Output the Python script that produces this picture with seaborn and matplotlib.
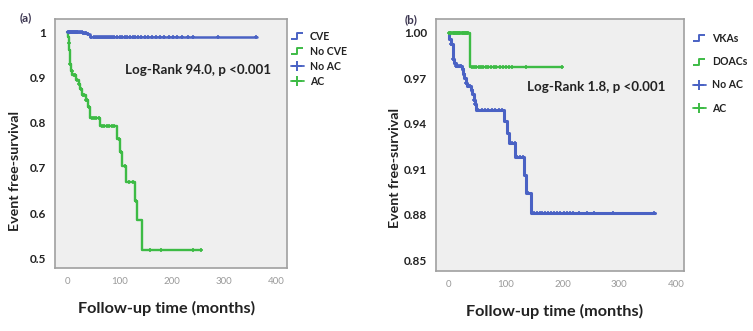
import numpy as np
import pandas as pd
import matplotlib
matplotlib.use("Agg")
import matplotlib.pyplot as plt
import seaborn as sns
from matplotlib.lines import Line2D
from matplotlib.path import Path

# ---- panel (a): CVE vs No CVE ----
a_cve_t = [0, 30, 38, 44, 363]
a_cve_s = [1.0, 0.998, 0.995, 0.990, 0.990]
a_cve_censor = [1, 3, 5, 7, 9, 11, 13, 15, 17, 19, 21, 24, 27, 30, 33, 36, 40, 46, 50, 54, 58,
                62, 66, 70, 74, 78, 82, 86, 90, 95, 100, 105, 110, 115, 120, 125, 130, 136,
                142, 148, 155, 162, 170, 178, 186, 194, 202, 210, 219, 232, 241, 289, 362]

a_nocve_t = [0, 1, 2, 3, 4, 5, 6.5, 9, 17, 22, 24, 27, 35, 40, 44, 63, 95, 100, 105, 113,
             129, 134, 143, 257]
a_nocve_s = [1.0, 0.99, 0.975, 0.96, 0.945, 0.93, 0.915, 0.905, 0.895, 0.885, 0.875, 0.862,
             0.85, 0.835, 0.81, 0.793, 0.765, 0.735, 0.705, 0.668, 0.627, 0.585, 0.52, 0.52]
a_nocve_censor = [2, 5, 8, 12, 15, 19, 23, 26, 29, 32, 36, 38, 42, 47, 50, 55, 60, 66, 70,
                  75, 80, 86, 90, 98, 103, 110, 118, 125, 132, 158, 179, 240, 256]

# ---- panel (b): VKAs vs DOACs ----
b_vka_t = [0, 1, 4, 7, 10, 13, 24, 26, 28, 30, 32, 40, 42, 44, 46, 48, 97, 103.5, 106,
           117.5, 132, 136, 144, 362]
b_vka_s = [1.0, 0.996, 0.993, 0.983, 0.980, 0.978, 0.976, 0.973, 0.970, 0.967, 0.965,
           0.962, 0.960, 0.956, 0.953, 0.949, 0.942, 0.934, 0.927, 0.918, 0.906, 0.894,
           0.881, 0.881]
b_vka_censor = [2, 5, 8, 11, 14, 17, 20, 22, 25, 27, 29, 31, 34, 36, 38, 41, 43, 45, 47, 52,
                58, 64, 70, 76, 82, 88, 94, 100, 104, 108, 112, 116, 120, 125, 130, 134, 140,
                146, 150, 155, 160, 165, 170, 175, 180, 185, 190, 196, 202, 208, 213, 218,
                229, 243, 255, 288, 360]

b_doac_t = [0, 37, 200]
b_doac_s = [1.0, 0.9775, 0.9775]
b_doac_censor = [1, 3, 5, 7, 9, 11, 13, 15, 17, 19, 21, 23, 25, 27, 29, 31, 33, 35, 41, 45,
                 49, 53, 57, 61, 65, 69, 74, 79, 84, 90, 96, 101, 106, 111, 136, 200]

BLUE = "#4a62c4"
GREEN = "#3dbb45"
TXT = "#222222"


def step_value(t, s, c):
    idx = np.searchsorted(np.asarray(t), np.asarray(c), side="right") - 1
    return np.asarray(s)[idx]


def draw_curve(ax, t, s, censor, color, lw):
    df = pd.DataFrame({"time": t, "surv": s})
    sns.lineplot(data=df, x="time", y="surv", drawstyle="steps-post", color=color,
                 linewidth=lw, estimator=None, ax=ax)
    cdf = pd.DataFrame({"time": censor, "surv": step_value(t, s, censor)})
    sns.scatterplot(data=cdf, x="time", y="surv", marker="+", s=12, color=color,
                    linewidth=1.2, ax=ax, zorder=3)


def style_axes(ax):
    ax.set_facecolor("#efefef")
    for sp in ax.spines.values():
        sp.set_color("#a0a0a0")
        sp.set_linewidth(1.2)
    ax.tick_params(axis="both", direction="out", length=3, width=0.8, color="#999999")
    ax.tick_params(axis="x", labelcolor="#9a9a9a", labelsize=7)
    ax.tick_params(axis="y", labelcolor=TXT, labelsize=8.5)
    for lab in ax.get_yticklabels():
        lab.set_fontweight("bold")
    ax.set_xticks([0, 100, 200, 300, 400])
    ax.set_xlabel("Follow-up time (months)", fontsize=11.7, fontweight="bold", color=TXT)
    ax.set_ylabel("Event free-survival", fontsize=10.3, fontweight="bold", color=TXT)
    ax.xaxis.set_label_coords(0.48, -0.13)


step_marker = Path([(-1, -0.5), (0, -0.5), (0, 0.5), (1, 0.5)],
                   [Path.MOVETO, Path.LINETO, Path.LINETO, Path.LINETO])


def legend_handles(labels):
    return [
        Line2D([], [], marker=step_marker, markersize=9, color=BLUE, linestyle="none",
               markerfacecolor="none", markeredgewidth=1.4, label=labels[0]),
        Line2D([], [], marker=step_marker, markersize=9, color=GREEN, linestyle="none",
               markerfacecolor="none", markeredgewidth=1.4, label=labels[1]),
        Line2D([], [], marker="+", markersize=7, color=BLUE, linestyle="-", linewidth=1.3,
               markeredgewidth=1.4, label=labels[2]),
        Line2D([], [], marker="+", markersize=7, color=GREEN, linestyle="-", linewidth=1.3,
               markeredgewidth=1.4, label=labels[3]),
    ]


sns.set_theme(style="white")
plt.rcParams["font.family"] = ["Lato", "DejaVu Sans"]

fig = plt.figure(figsize=(7.53, 3.31), dpi=100)
ax1 = fig.add_axes([0.073, 0.190, 0.308, 0.753])
ax2 = fig.add_axes([0.579, 0.181, 0.329, 0.762])

# panel (a)
draw_curve(ax1, a_cve_t, a_cve_s, a_cve_censor, BLUE, 1.8)
draw_curve(ax1, a_nocve_t, a_nocve_s, a_nocve_censor, GREEN, 1.7)
ax1.set_xlim(-24, 421)
ax1.set_ylim(0.479, 1.029)
ax1.set_yticks([0.5, 0.6, 0.7, 0.8, 0.9, 1.0])
ax1.set_yticklabels(["0.5", "0.6", "0.7", "0.8", "0.9", "1"])
style_axes(ax1)
ax1.yaxis.set_label_coords(-0.145, 0.39)
ax1.text(0.615, 0.795, "Log-Rank 94.0, p <0.001", transform=ax1.transAxes, ha="center",
         va="center", fontsize=9.6, fontweight="bold", color=TXT)
leg1 = ax1.legend(handles=legend_handles(["CVE", "No CVE", "No AC", "AC"]), loc="upper left",
                  bbox_to_anchor=(1.0, 0.97), frameon=False, fontsize=7.6, handlelength=1.2,
                  handletextpad=0.6, labelspacing=0.38, borderaxespad=0)
for t in leg1.get_texts():
    t.set_fontweight("bold")
    t.set_color(TXT)
fig.text(0.026, 0.935, "(a)", fontsize=8.5, fontweight="bold", color="#3b3550")

# panel (b)
draw_curve(ax2, b_vka_t, b_vka_s, b_vka_censor, BLUE, 2.2)
draw_curve(ax2, b_doac_t, b_doac_s, b_doac_censor, GREEN, 1.7)
ax2.set_xlim(-22, 413)
ax2.set_ylim(0.8427, 1.0093)
ax2.set_yticks([0.85, 0.88, 0.91, 0.94, 0.97, 1.00])
ax2.set_yticklabels(["0.85", "0.88", "0.91", "0.94", "0.97", "1.00"])
style_axes(ax2)
ax2.yaxis.set_label_coords(-0.14, 0.41)
ax2.text(0.645, 0.73, "Log-Rank 1.8, p <0.001", transform=ax2.transAxes, ha="center",
         va="center", fontsize=9.6, fontweight="bold", color=TXT)
leg2 = ax2.legend(handles=legend_handles(["VKAs", "DOACs", "No AC", "AC"]), loc="upper left",
                  bbox_to_anchor=(1.02, 0.96), frameon=False, fontsize=7.6, handlelength=1.2,
                  handletextpad=0.6, labelspacing=1.15, borderaxespad=0)
for t in leg2.get_texts():
    t.set_fontweight("bold")
    t.set_color(TXT)
fig.text(0.537, 0.93, "(b)", fontsize=8.5, fontweight="bold", color="#3b3550")

fig.savefig("out.png", dpi=100)
